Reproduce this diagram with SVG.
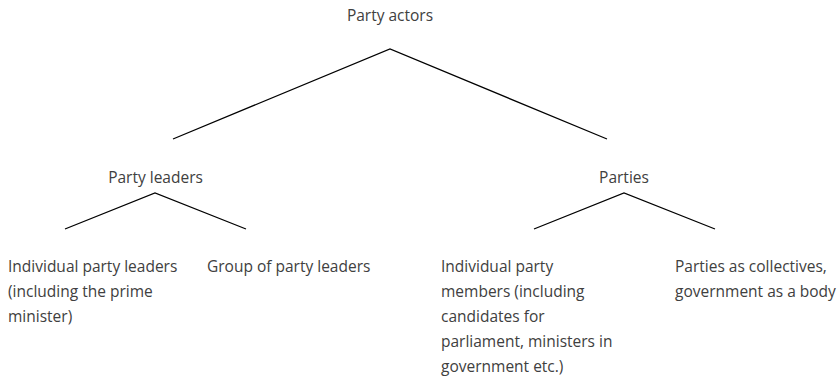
<svg xmlns="http://www.w3.org/2000/svg" width="840" height="379" viewBox="0 0 840 379">
  <style>
    text { font-family: "Open Sans", "Liberation Sans", sans-serif; font-size: 15.5px; fill: #404040; }
    .mid { text-anchor: middle; }
    .edge { stroke: #000; stroke-width: 1.3; fill: none; }
  </style>
  <rect width="840" height="379" fill="#fff"/>
  <g id="connectors">
    <polyline class="edge" points="173,139 390,49 607,139"/>
    <polyline class="edge" points="65,229 155,193 246,229"/>
    <polyline class="edge" points="534,229 624,193 715,229"/>
  </g>
  <g id="party-actors"><text class="mid" x="390" y="21">Party actors</text></g>
  <g id="party-leaders"><text class="mid" x="155.5" y="183">Party leaders</text></g>
  <g id="parties"><text class="mid" x="624" y="183">Parties</text></g>
  <g id="individual-party-leaders">
    <text x="8" y="272">Individual party leaders</text>
    <text x="8" y="297">(including the prime</text>
    <text x="8" y="322">minister)</text>
  </g>
  <g id="group-of-party-leaders"><text x="207" y="272">Group of party leaders</text></g>
  <g id="individual-party-members">
    <text x="441" y="272">Individual party</text>
    <text x="441" y="297">members (including</text>
    <text x="441" y="322">candidates for</text>
    <text x="441" y="347">parliament, ministers in</text>
    <text x="441" y="372">government etc.)</text>
  </g>
  <g id="parties-as-collectives">
    <text x="675" y="272">Parties as collectives,</text>
    <text x="675" y="297">government as a body</text>
  </g>
</svg>
